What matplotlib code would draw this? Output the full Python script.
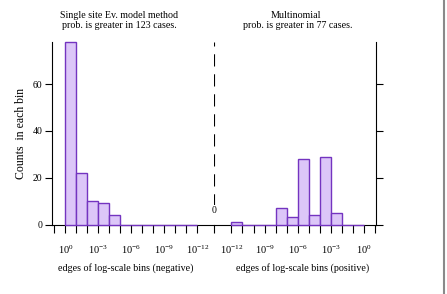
# Histogram of log-scale bins: negative side vs positive side.

import matplotlib as mpl
mpl.use("Agg")
import matplotlib.pyplot as plt
from matplotlib.lines import Line2D
from matplotlib.ticker import FixedLocator, NullLocator
import numpy as np

# --- data ---
# left panel: bins from 10^0 down to 10^-12 (negative differences)
neg_exponents = [0, -1, -2, -3, -4, -5, -6, -7, -8, -9, -10, -11, -12]
neg_counts = [78, 22, 10, 9, 4, 0, 0, 0, 0, 0, 0, 0]
# right panel: bins from 10^-12 up to 10^0 (positive differences)
pos_exponents = [-12, -11, -10, -9, -8, -7, -6, -5, -4, -3, -2, -1, 0]
pos_counts = [1, 0, 0, 0, 7, 3, 28, 4, 29, 5, 0, 0]

neg_title = ["Single site Ev. model method", "prob. is greater in 123 cases."]
pos_title = ["Multinomial", "prob. is greater in 77 cases."]
neg_xlabel = "edges of log-scale bins (negative)"
pos_xlabel = "edges of log-scale bins (positive)"
ylabel = "Counts  in each bin"
y_ticks = [0, 20, 40, 60]
label_exps = [0, -3, -6, -9, -12]

# --- style ---
mpl.rcParams.update({
    "font.family": "Liberation Serif",
    "mathtext.fontset": "custom",
    "mathtext.rm": "Liberation Serif",
    "font.size": 7,
    "axes.linewidth": 0.8,
    "xtick.major.width": 0.8,
    "ytick.major.width": 0.8,
})
FILL = "#dcc6f8"
EDGE = "#7434c0"

W, H = 447, 294
fig = plt.figure(figsize=(W / 100, H / 100), dpi=100)


def fx(px):
    return px / W


def fy(py):
    return 1 - py / H


x_left, x_mid, x_right = 52.3, 214.3, 376.0
y_top, y_zero = 42.0, 224.5
ax_l = fig.add_axes([fx(x_left), fy(y_zero), (x_mid - x_left) / W, (y_zero - y_top) / H])
ax_r = fig.add_axes([fx(x_mid), fy(y_zero), (x_right - x_mid) / W, (y_zero - y_top) / H])

mid_exp = -13.54


def draw_bars(ax, exps, counts):
    edges = 10.0 ** np.array(exps, dtype=float)
    lo = np.minimum(edges[:-1], edges[1:])
    hi = np.maximum(edges[:-1], edges[1:])
    ax.bar(lo, counts, width=hi - lo, align="edge", color=FILL,
           edgecolor=EDGE, linewidth=1.0, zorder=3, clip_on=False)


draw_bars(ax_l, neg_exponents, neg_counts)
draw_bars(ax_r, pos_exponents, pos_counts)

for ax in (ax_l, ax_r):
    ax.set_xscale("log")
    ax.set_ylim(0, 78)
    ax.spines["top"].set_visible(False)
    ax.tick_params(axis="x", direction="out", length=6, pad=7.5, labelsize=7.5)
    ax.tick_params(axis="y", direction="out", length=5, pad=2, labelsize=7)
    ax.xaxis.set_minor_locator(NullLocator())
    ax.set_facecolor("none")

# left panel
ax_l.set_xlim(10 ** 1.2, 10 ** mid_exp)
l_exps = list(range(1, -13, -1))
ax_l.xaxis.set_major_locator(FixedLocator([10.0 ** e for e in l_exps] + [10 ** mid_exp]))
ax_l.set_xticklabels([r"$\mathregular{10^{%d}}$" % e if e in label_exps else "" for e in l_exps] + [""])
ax_l.spines["right"].set_visible(False)
ax_l.set_yticks(y_ticks)
ax_l.set_ylabel(ylabel, fontsize=8.5, labelpad=4)

# right panel
ax_r.set_xlim(10 ** mid_exp, 10 ** 1.06)
r_exps = list(range(-12, 2))
ax_r.xaxis.set_major_locator(FixedLocator([10.0 ** e for e in r_exps]))
ax_r.set_xticklabels([r"$\mathregular{10^{%d}}$" % e if e in label_exps else "" for e in r_exps])
ax_r.spines["left"].set_visible(False)
ax_r.yaxis.tick_right()
ax_r.set_yticks(y_ticks)
ax_r.set_yticklabels([])

# titles and axis labels placed like the original
fig.text(fx(119.5), fy(15), neg_title[0], ha="center", va="center", fontsize=7.2)
fig.text(fx(119.5), fy(26), neg_title[1], ha="center", va="center", fontsize=7.2)
fig.text(fx(295.5), fy(15), pos_title[0], ha="center", va="center", fontsize=7.2)
fig.text(fx(297.5), fy(26), pos_title[1], ha="center", va="center", fontsize=7.2)
fig.text(fx(126), fy(268), neg_xlabel, ha="center", va="center", fontsize=7.2)
fig.text(fx(303), fy(268), pos_xlabel, ha="center", va="center", fontsize=7.2)

# dashed separator with zero marker
ax_r.axvline(10 ** mid_exp, ymin=0.1, ymax=1.0, color="black", linewidth=0.8,
             dashes=(11, 7), zorder=1)
ax_r.text(10 ** mid_exp, 6, "0", ha="center", va="center", fontsize=7,
          bbox=dict(facecolor="white", edgecolor="none", pad=0.5), zorder=2)

# gray frame line at the right edge
fig.add_artist(Line2D([fx(443.8), fx(443.8)], [0, 1], color="#8a8a8a", linewidth=1.5))

fig.savefig("out.png", dpi=100)
